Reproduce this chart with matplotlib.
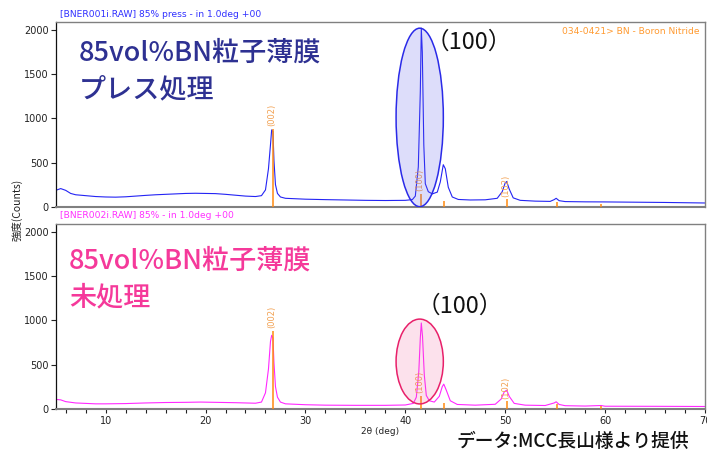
import matplotlib
matplotlib.use("Agg")
import matplotlib.pyplot as plt
from matplotlib.patches import Ellipse

# ---- data ----
tt_press = [5.0, 5.5, 6.0, 6.5, 7.0, 8.0, 9.0, 10.0, 11.0, 12.0, 13.0, 14.0, 15.0, 16.0,
            17.0, 18.0, 19.0, 20.0, 21.0, 22.0, 23.0, 24.0, 25.0, 25.6, 26.0, 26.3, 26.5,
            26.62, 26.75, 26.85, 27.0, 27.2, 27.5, 28.0, 29.0, 30.0, 32.0, 34.0, 36.0, 38.0,
            40.0, 40.7, 41.0, 41.3, 41.5, 41.6, 41.7, 41.85, 42.0, 42.3, 42.7, 43.2, 43.5,
            43.8, 44.0, 44.3, 44.7, 45.3, 46.5, 48.0, 49.2, 49.7, 50.0, 50.15, 50.4, 50.8,
            51.5, 53.0, 54.5, 54.9, 55.1, 55.4, 56.0, 58.0, 60.0, 62.0, 64.0, 66.0, 68.0, 70.0]
cnt_press = [185, 205, 185, 150, 135, 125, 115, 110, 108, 112, 120, 128, 135, 140,
             145, 150, 152, 150, 148, 140, 130, 120, 115, 125, 190, 430, 700,
             870, 850, 520, 250, 150, 110, 95, 90, 85, 80, 76, 72, 70,
             72, 80, 120, 450, 1300, 2020, 1750, 700, 260, 170, 145, 165, 280,
             475, 430, 220, 110, 82, 76, 78, 95, 170, 270, 285, 200, 100,
             72, 63, 60, 80, 95, 68, 58, 55, 54, 52, 50, 48, 45, 42]

tt_raw = [5.0, 5.5, 6.0, 7.0, 8.0, 9.0, 10.0, 12.0, 14.0, 16.0, 18.0, 19.5, 21.0, 23.0,
          25.0, 25.6, 26.0, 26.3, 26.5, 26.62, 26.75, 26.85, 27.0, 27.2, 27.5, 28.0, 30.0,
          32.0, 35.0, 38.0, 40.0, 40.8, 41.1, 41.35, 41.5, 41.6, 41.72, 41.9, 42.1, 42.4,
          42.9, 43.4, 43.7, 43.85, 44.1, 44.5, 45.2, 47.0, 49.0, 49.6, 49.9, 50.15, 50.4,
          50.9, 52.0, 54.0, 54.9, 55.1, 55.4, 56.0, 58.0, 59.6, 60.0, 65.0, 70.0]
cnt_raw = [105, 100, 80, 65, 60, 55, 55, 58, 65, 70, 72, 75, 72, 68,
           62, 75, 180, 450, 760, 830, 800, 520, 250, 130, 75, 55, 45,
           40, 38, 38, 42, 60, 130, 420, 800, 970, 820, 380, 150, 90,
           75, 140, 250, 278, 210, 90, 48, 40, 50, 110, 190, 210, 140,
           60, 40, 36, 65, 78, 48, 34, 30, 36, 28, 27, 25]

ref_pos = [26.8, 41.6, 43.9, 50.2, 55.2, 59.6]
ref_height = [880, 145, 60, 85, 55, 30]
ref_hkl = ["(002)", "(100)", "", "(102)", "", ""]

header_top = "[BNER001i.RAW] 85% press - in 1.0deg +00"
header_bot = "[BNER002i.RAW] 85% - in 1.0deg +00"
ref_card = "034-0421> BN - Boron Nitride"
title_top = ["85vol%BN粒子薄膜", "プレス処理"]
title_bot = ["85vol%BN粒子薄膜", "未処理"]
peak_note = "（100）"
ylabel = "強度(Counts)"
xlabel = "2θ (deg)"
credit = "データ:MCC長山様より提供"
yticks = [0, 500, 1000, 1500, 2000]
xticks_major = [10, 20, 30, 40, 50, 60, 70]

# ---- styling ----
CJK = ["Noto Sans CJK JP", "DejaVu Sans"]
W, H = 707, 458
fig = plt.figure(figsize=(W / 100, H / 100), dpi=100)

def fx(px):
    return px / W

def fy(py):
    return 1 - py / H

ax1 = fig.add_axes([fx(55.7), fy(206.7), fx(705) - fx(55.7), fy(22) - fy(206.7)])
ax2 = fig.add_axes([fx(55.7), fy(408.7), fx(705) - fx(55.7), fy(224) - fy(408.7)])

BLUE = "#2424f4"
MAG = "#ff28ff"
ORANGE = "#ff8a10"
ORANGE_LT = "#f2a050"

for ax, tt, cnt, col in [(ax1, tt_press, cnt_press, BLUE), (ax2, tt_raw, cnt_raw, MAG)]:
    ax.set_xlim(5, 70)
    ax.set_ylim(0, 2090)
    for p, h, lab in zip(ref_pos, ref_height, ref_hkl):
        ax.vlines(p, 0, h, color=ORANGE, lw=1.1, zorder=3)
        if lab:
            ax.text(p - 0.15, h + 30, lab, rotation=90, ha="center", va="bottom",
                    fontsize=6, color=ORANGE_LT, zorder=4)
    ax.plot(tt, cnt, color=col, lw=0.8, zorder=2)
    ax.set_yticks(yticks)
    ax.tick_params(axis="y", direction="out", length=3.5, width=0.8, labelsize=7,
                   colors="#222222", pad=1.5)
    for s in ["top", "right", "bottom"]:
        ax.spines[s].set_color("#808080")
        ax.spines[s].set_linewidth(1.0)
    ax.spines["bottom"].set_linewidth(1.5)
    ax.spines["left"].set_color("#111111")
    ax.spines["left"].set_linewidth(0.9)

ax1.set_xticks([])
ax2.set_xticks(xticks_major)
ax2.set_xticks(list(range(6, 70, 2)), minor=True)
ax2.tick_params(axis="x", which="both", direction="out", length=3, width=0.8,
                labelsize=7, colors="#222222", pad=2)

# ellipses highlighting the (100) peak
e1 = Ellipse((41.44, 1010), 4.73, 2020, facecolor=(0.35, 0.35, 0.9, 0.2),
             edgecolor="#2a2ae8", lw=1.1, zorder=5)
e2 = Ellipse((41.44, 534), 4.73, 960, facecolor=(0.95, 0.35, 0.6, 0.18),
             edgecolor="#e8206a", lw=1.1, zorder=5)
ax1.add_patch(e1)
ax2.add_patch(e2)

# headers
fig.text(fx(60), fy(14.7), header_top, color="#3030ff", fontsize=6.6, va="center", ha="left")
fig.text(fx(60), fy(215), header_bot, color="#ff30ff", fontsize=6.6, va="center", ha="left")
fig.text(fx(700), fy(31), ref_card, color="#ff9a30", fontsize=6.6, va="center", ha="right")

# big annotations
NAVY = "#2e3192"
PINK = "#f5399a"
kw = dict(family=CJK, fontsize=19.5, fontweight="medium", va="center", ha="left")
fig.text(fx(79), fy(53), title_top[0], color=NAVY, **kw)
fig.text(fx(79), fy(90), title_top[1], color=NAVY, **kw)
fig.text(fx(69), fy(261.5), title_bot[0], color=PINK, **kw)
fig.text(fx(69), fy(298), title_bot[1], color=PINK, **kw)

fig.text(fx(469), fy(42), peak_note, family=CJK, fontsize=17,
         color="#111111", va="center", ha="center")
fig.text(fx(460), fy(306), peak_note, family=CJK, fontsize=17,
         color="#111111", va="center", ha="center")

# axis labels
fig.text(fx(17), fy(210), ylabel, family=CJK, fontsize=7.5, rotation=90, va="center", ha="center",
         color="#222222")
fig.text(fx(380.5), fy(431.7), xlabel, fontsize=6.5, va="center", ha="center", color="#222222")

fig.text(fx(573), fy(441), credit, family=CJK, fontsize=13.5, fontweight="medium",
         color="#111111", va="center", ha="center")

fig.savefig("out.png", dpi=100)
